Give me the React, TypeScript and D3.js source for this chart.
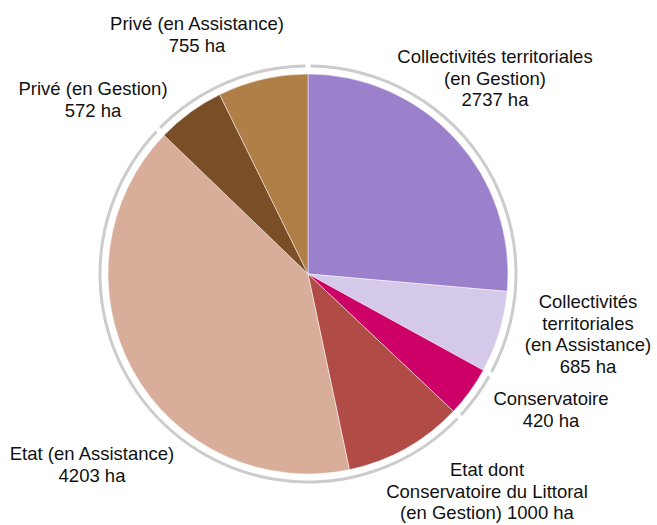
import React from "react";
import * as d3 from "d3";

const categories = [
  "Collectivités territoriales (en Gestion)",
  "Collectivités territoriales (en Assistance)",
  "Conservatoire",
  "Etat dont Conservatoire du Littoral (en Gestion)",
  "Etat (en Assistance)",
  "Privé (en Gestion)",
  "Privé (en Assistance)",
];
const values = [2737, 685, 420, 1000, 4203, 572, 755];
const groups = ["Collectivités", "Collectivités", "Conservatoire", "Etat", "Etat", "Privé", "Privé"];
const colors = ["#9b80cc", "#d5c9e9", "#cc0066", "#b04b45", "#d8ae9b", "#7a4e27", "#b07f48"];
const labelLines = [
  ["Collectivités territoriales", "(en Gestion)", "2737 ha"],
  ["Collectivités", "territoriales", "(en Assistance)", "685 ha"],
  ["Conservatoire", "420 ha"],
  ["Etat dont", "Conservatoire du Littoral", "(en Gestion) 1000 ha"],
  ["Etat (en Assistance)", "4203 ha"],
  ["Privé (en Gestion)", "572 ha"],
  ["Privé (en Assistance)", "755 ha"],
];
// label anchor layout (center x, first baseline y)
const labelLayout = [
  [495, 63],
  [588, 308],
  [551, 405],
  [487, 476],
  [92, 460],
  [93, 95],
  [197, 30],
];

const W = 657;
const H = 525;
const cx = 308;
const cy = 274;
const R = 200;
const ringR = 208;

export default function App() {
  const pie = d3.pie<number>().sort(null).value((d) => d);
  const arcs = pie(values);
  const arcGen = d3.arc<d3.PieArcDatum<number>>().innerRadius(0).outerRadius(R);

  const groupNames: string[] = [];
  groups.forEach((g) => { if (!groupNames.includes(g)) groupNames.push(g); });
  const groupTotals = groupNames.map((g) => d3.sum(values.filter((_, i) => groups[i] === g)));
  const groupArcs = pie(groupTotals);
  const ringGen = d3
    .arc<d3.PieArcDatum<number>>()
    .innerRadius(ringR - 1.5)
    .outerRadius(ringR + 1.5)
    .padAngle(0.024)
    .padRadius(ringR);

  return (
    <svg width={W} height={H} style={{ position: "absolute", left: 0, top: 0, display: "block" }}>
      <rect width={W} height={H} fill="#ffffff" />
      <g transform={`translate(${cx},${cy})`}>
        {arcs.map((a, i) => (
          <path key={i} d={arcGen(a) || ""} fill={colors[i]} stroke="#ffffff" strokeOpacity={0.6} strokeWidth={0.8} />
        ))}
        {groupArcs.map((a, i) => (
          <path key={"g" + i} d={ringGen(a) || ""} fill="#cccccc" />
        ))}
      </g>
      {labelLines.map((lines, i) => (
        <text
          key={"t" + i}
          x={labelLayout[i][0]}
          y={labelLayout[i][1]}
          textAnchor="middle"
          fontFamily="'Liberation Sans', Arial, sans-serif"
          fontSize={18.5}
          fill="#111"
        >
          {lines.map((l, j) => (
            <tspan key={j} x={labelLayout[i][0]} dy={j === 0 ? 0 : 21.5}>
              {l}
            </tspan>
          ))}
        </text>
      ))}
    </svg>
  );
}
